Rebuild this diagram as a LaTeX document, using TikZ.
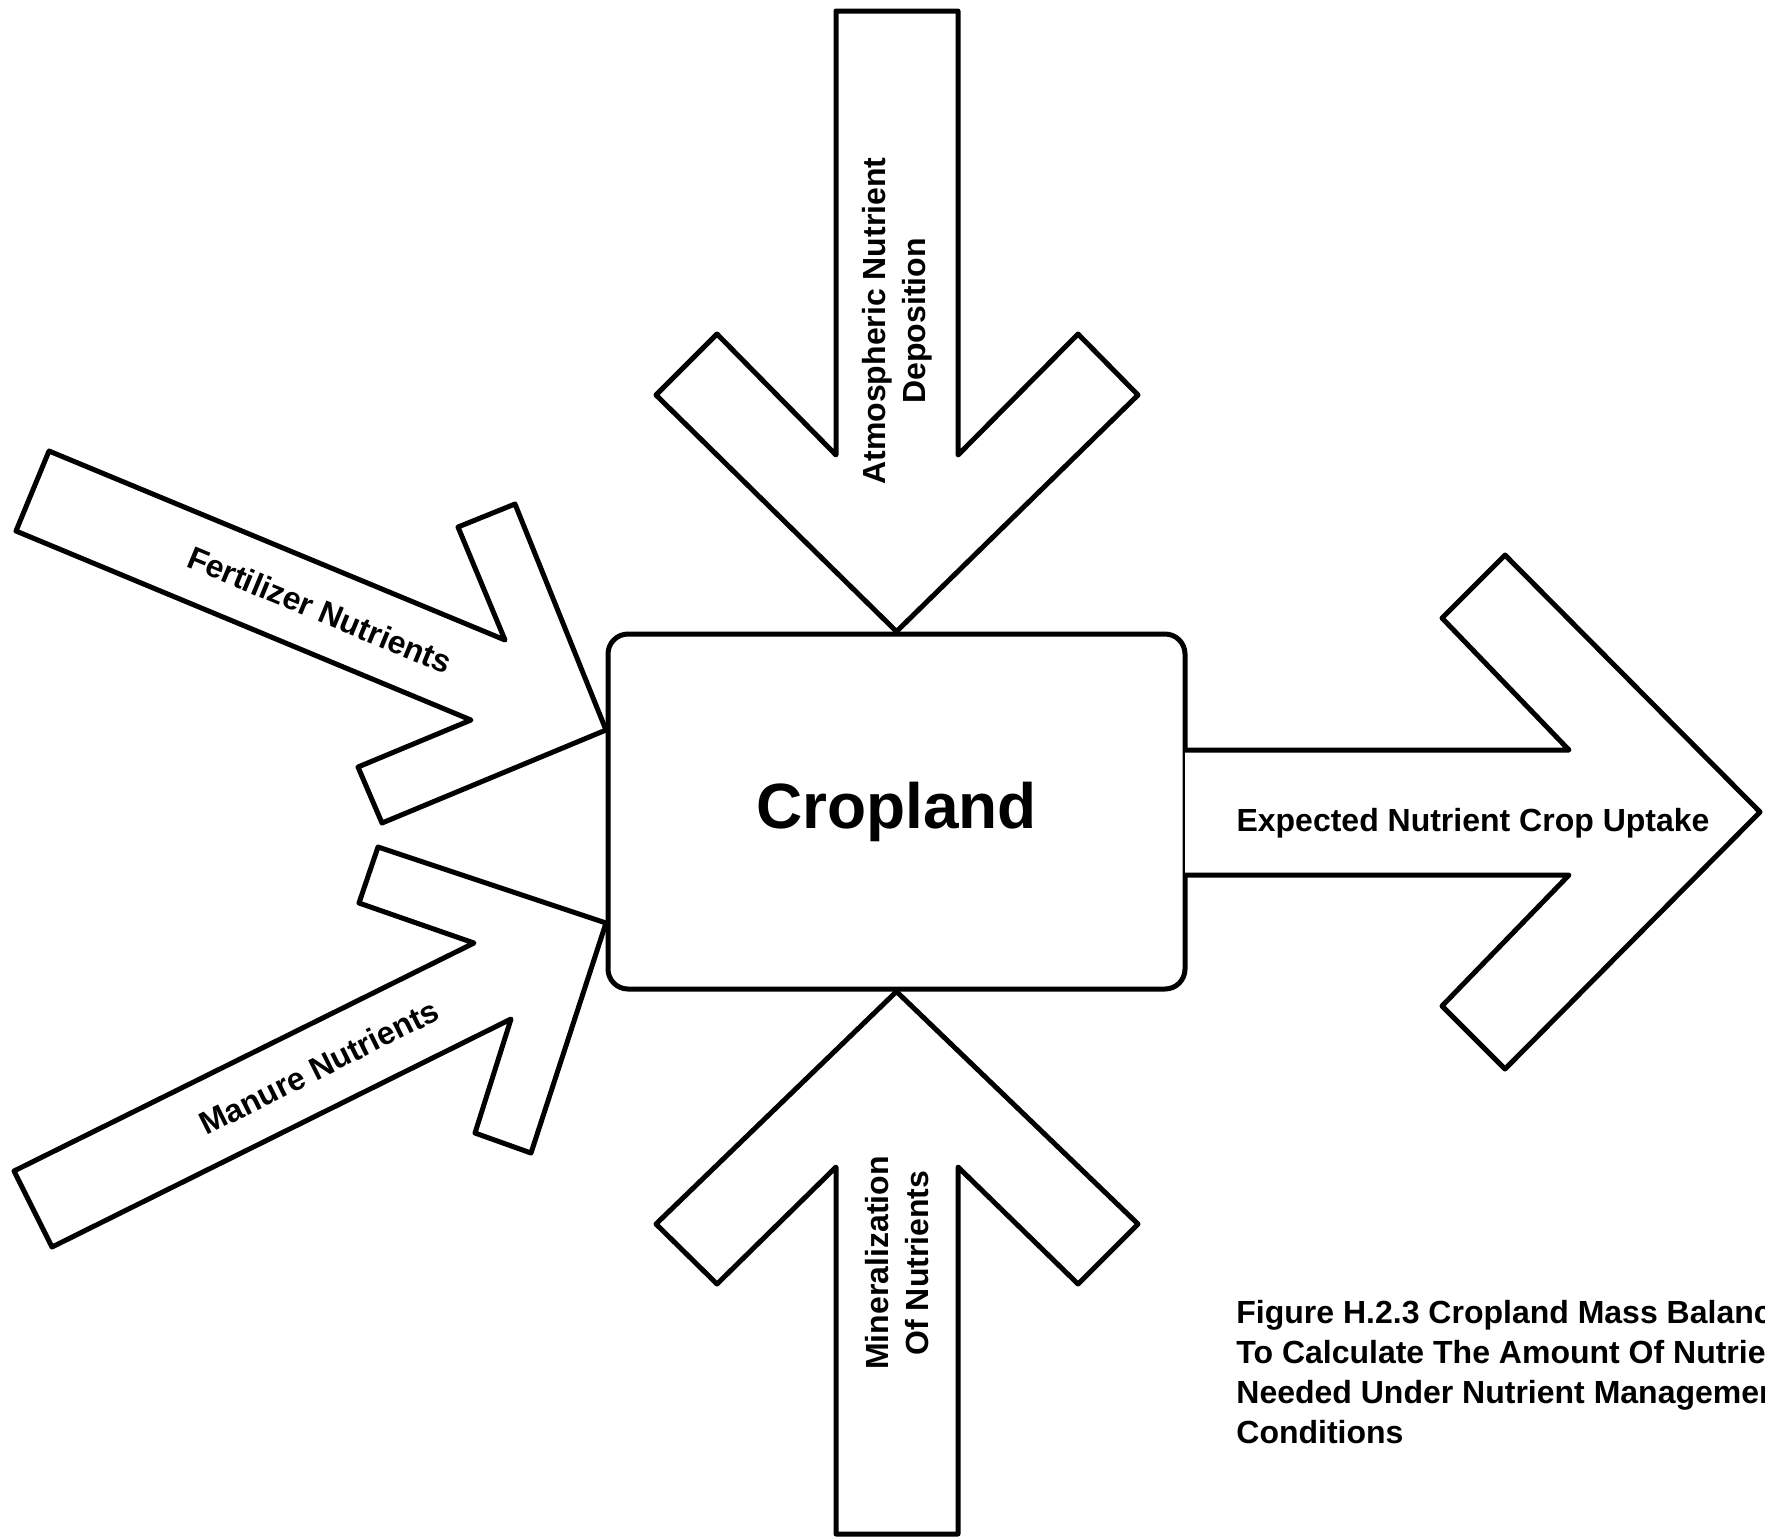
\documentclass[tikz,border=0pt]{standalone}
\usepackage{fontspec}
\setmainfont{Liberation Sans}
\begin{document}
\begin{tikzpicture}[x=0.5pt,y=-0.5pt,
  blockarrow/.style={draw,line width=2.5pt,line join=round,fill=white},
  lbl/.style={font=\bfseries\fontsize{16}{20}\selectfont,align=center,inner sep=0pt}]
\useasboundingbox (0,0) rectangle (1765,1539);
\node[draw,line width=2.5pt,rounded corners=10pt,minimum width=288.5pt,minimum height=177.5pt,
      font=\bfseries\fontsize{32}{38}\selectfont] (crop) at (896.5,811.5) {Cropland};

\draw[blockarrow] (836,11) -- (958,11) -- (958,455) -- (1078,334) -- (1138,395) -- (crop.north)
   -- (656,395) -- (717,334) -- (836,455) -- cycle;
\draw[blockarrow] (836,1534) -- (836,1167) -- (717,1284) -- (656,1224) -- (crop.south)
   -- (1138,1224) -- (1078,1284) -- (958,1167) -- (958,1534) -- cycle;
\draw[blockarrow] (1185,750) -- (1569,750) -- (1442,618) -- (1505,555) -- (1760,812)
   -- (1505,1069) -- (1442,1006) -- (1569,875) -- (1185,875);
\draw[blockarrow] (49,451) -- (505,640) -- (458,527) -- (515,504) -- (606,730)
   -- (382,823) -- (358,767) -- (471,720) -- (16,531) -- cycle;
\draw[blockarrow] (14,1171) -- (474,943) -- (359,903) -- (378,847) -- (606,923)
   -- (531,1153) -- (475,1133) -- (511,1019) -- (52,1247) -- cycle;

\node[lbl,rotate=90] (atmo) at (897,321) {Atmospheric Nutrient\\Deposition};
\node[lbl,rotate=90] (minr) at (897,1263) {Mineralization\\Of Nutrients};
\node[lbl,rotate=-22.5] (fert) at (320,610) {Fertilizer Nutrients};
\node[lbl,rotate=26.5] (manu) at (319,1067) {Manure Nutrients};
\node[lbl,anchor=base] (uptk) at (1473,831) {Expected Nutrient Crop Uptake};
\node[lbl,anchor=north west,align=left] (capt) at (1236,1300) {Figure H.2.3 Cropland Mass Balance\\
  To Calculate The Amount Of Nutrients\\Needed Under Nutrient Management\\Conditions};
\end{tikzpicture}
\end{document}
